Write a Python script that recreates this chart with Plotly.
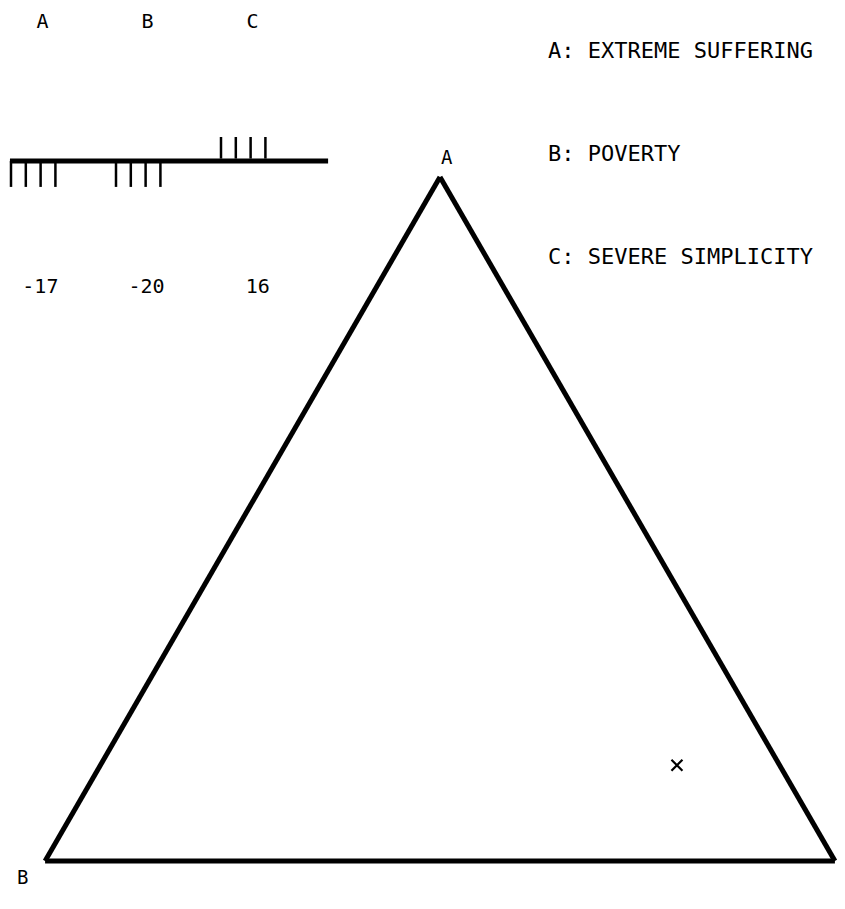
import plotly.graph_objects as go

# ---- data ----
components = ["A", "B", "C"]
scores = [-17, -20, 16]
tick_counts = [4, 4, 4]
legend_labels = ["A: EXTREME SUFFERING", "B: POVERTY", "C: SEVERE SIMPLICITY"]
point_a = [14]
point_b = [13]
point_c = [73]
point_label = ["X"]

W, H = 845, 909
OFF = 8  # page body margin of the browser
FONT = "DejaVu Sans Mono"
BLACK = "black"


def px(v):
    """screen pixel -> figure pixel"""
    return v - OFF


fig = go.Figure()

# ---- ternary triangle with the single point ----
fig.add_trace(go.Scatterternary(
    a=point_a, b=point_b, c=point_c,
    mode="markers",
    marker=dict(symbol="x-thin", size=11, line=dict(width=2.2, color=BLACK), color=BLACK),
    text=point_label, hoverinfo="text", showlegend=False,
))

ax_common = dict(showgrid=False, showticklabels=False, ticks="", linecolor=BLACK,
                 linewidth=5, showline=True, title=dict(text=""))
fig.update_layout(
    ternary=dict(
        sum=100,
        domain=dict(x=[px(45) / W, px(835) / W], y=[(H - px(861)) / H, (H - px(177)) / H]),
        bgcolor="white",
        aaxis=ax_common, baxis=ax_common, caxis=ax_common,
    )
)

# ---- score glyph (top-left) on a hidden cartesian axis ----
unit_x = 105.0
x0_px = px(11.0)
unit_y = 24.0
y0_px = px(161.0)

tick_step = 0.141
line_x, line_y = [], []
for i, (cnt, s) in enumerate(zip(tick_counts, scores)):
    sign = 1 if s > 0 else -1
    for j in range(cnt):
        xx = i + j * tick_step
        line_x += [xx, xx, None]
        line_y += [0.1 * sign if sign > 0 else 0, sign * (1.0 if sign > 0 else 1.08), None]

fig.add_trace(go.Scatter(
    x=line_x, y=line_y, mode="lines", line=dict(color=BLACK, width=2.5),
    xaxis="x", yaxis="y", hoverinfo="skip", showlegend=False,
))
fig.add_trace(go.Scatter(
    x=[-0.01, len(components) + 0.02], y=[0, 0], mode="lines",
    line=dict(color=BLACK, width=5),
    xaxis="x", yaxis="y", hoverinfo="skip", showlegend=False,
))
fig.add_trace(go.Scatter(
    x=[i + 0.3 for i in range(len(components))], y=[(161 - 23) / unit_y] * len(components),
    mode="text", text=components, textfont=dict(family=FONT, size=20, color=BLACK),
    xaxis="x", yaxis="y", hoverinfo="skip", showlegend=False,
))
fig.add_trace(go.Scatter(
    x=[0.28, 1.29, 2.35], y=[(161 - 288) / unit_y] * len(scores),
    mode="text", text=[str(v) for v in scores], textfont=dict(family=FONT, size=20, color=BLACK),
    xaxis="x", yaxis="y", hoverinfo="skip", showlegend=False,
))

fig.update_layout(
    xaxis=dict(domain=[0, 1], range=[-x0_px / unit_x, (W - x0_px) / unit_x],
               visible=False, fixedrange=True),
    yaxis=dict(domain=[0, 1], range=[(y0_px - H) / unit_y, y0_px / unit_y],
               visible=False, fixedrange=True),
)

# ---- legend texts and vertex labels ----
annotations = []
for k, lab in enumerate(legend_labels):
    annotations.append(dict(
        text=lab, x=px(546) / W, y=1 - px(50 + 103.5 * k) / H, xref="paper", yref="paper",
        xanchor="left", yanchor="middle", showarrow=False,
        font=dict(family=FONT, size=22, color=BLACK),
    ))
annotations.append(dict(text="A", x=px(447) / W, y=1 - px(157) / H, xref="paper", yref="paper",
                        xanchor="center", yanchor="middle",
                        showarrow=False, font=dict(family=FONT, size=19, color=BLACK)))
annotations.append(dict(text="B", x=px(22) / W, y=1 - px(877) / H, xref="paper", yref="paper",
                        xanchor="center", yanchor="middle",
                        showarrow=False, font=dict(family=FONT, size=19, color=BLACK)))

fig.update_layout(
    width=W, height=H,
    margin=dict(l=0, r=0, t=0, b=0),
    paper_bgcolor="white", plot_bgcolor="rgba(0,0,0,0)",
    showlegend=False,
    annotations=annotations,
)

fig.write_html("out.html")
